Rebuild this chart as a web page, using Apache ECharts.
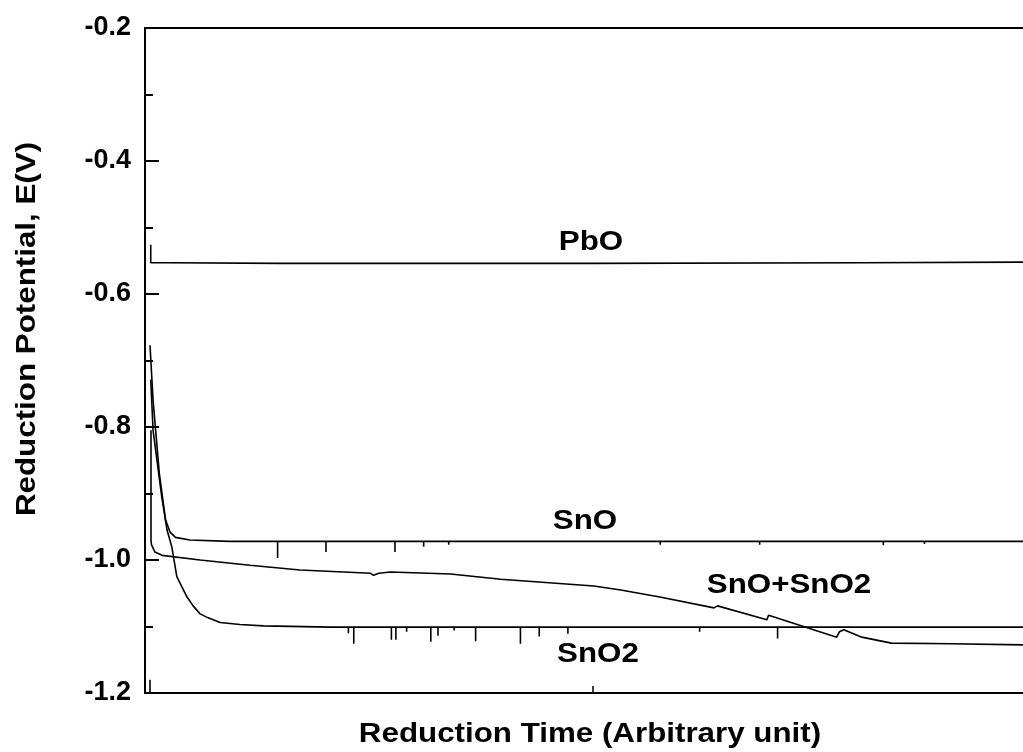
<!DOCTYPE html>
<html>
<head>
<meta charset="utf-8">
<script src="https://cdn.jsdelivr.net/npm/echarts@6/dist/echarts.min.js"></script>
<style>
  html, body { margin: 0; padding: 0; background: #fff; }
  #chart { width: 1023px; height: 752px; }
</style>
</head>
<body>
<div id="chart"></div>
<script>
// x in arbitrary time units (0..100), y in volts
const yTicks = [-1.2, -1.0, -0.8, -0.6, -0.4, -0.2];

const pbo = [
  [0.64, -0.526], [0.64, -0.553], [0.7, -0.550], [2.8, -0.553], [15, -0.554],
  [50, -0.554], [80, -0.553], [100, -0.552]
];

const sno = [
  [0.56, -0.677], [0.9, -0.76], [1.6, -0.87], [2.3, -0.94], [2.8, -0.958],
  [3.4, -0.966], [5.0, -0.970], [9.4, -0.972],
  [14.8, -0.972], [14.8, -0.997], [14.8, -0.972],
  [20.2, -0.972], [20.2, -0.988], [20.2, -0.972],
  [27.9, -0.972], [27.9, -0.988], [27.9, -0.972],
  [31.1, -0.972], [31.1, -0.980], [31.1, -0.972],
  [33.9, -0.972], [33.9, -0.977], [33.9, -0.972],
  [57.5, -0.972], [57.5, -0.977], [57.5, -0.972],
  [68.6, -0.972], [68.6, -0.977], [68.6, -0.972],
  [82.4, -0.972], [82.4, -0.978], [82.4, -0.972],
  [87.0, -0.972], [87.0, -0.976], [87.0, -0.972],
  [100, -0.972]
];

const sno2 = [
  [0.64, -0.729], [0.9, -0.805], [1.87, -0.905], [2.46, -0.955], [2.99, -0.980],
  [3.55, -1.025], [4.66, -1.055], [5.37, -1.069], [6.15, -1.081], [7.05, -1.087],
  [8.39, -1.094], [10.6, -1.097], [13.2, -1.099], [20.7, -1.101],
  [22.7, -1.101], [22.7, -1.110], [22.7, -1.101],
  [23.3, -1.101], [23.3, -1.126], [23.3, -1.101],
  [27.5, -1.101], [27.5, -1.120], [27.5, -1.101],
  [28.0, -1.101], [28.0, -1.120], [28.0, -1.101],
  [29.2, -1.101], [29.2, -1.108], [29.2, -1.101],
  [31.9, -1.101], [31.9, -1.123], [31.9, -1.101],
  [32.7, -1.101], [32.7, -1.114], [32.7, -1.101],
  [34.5, -1.101], [34.5, -1.106], [34.5, -1.101],
  [36.9, -1.101], [36.9, -1.122], [36.9, -1.101],
  [41.9, -1.101], [41.9, -1.126], [41.9, -1.101],
  [44.0, -1.101], [44.0, -1.115], [44.0, -1.101],
  [47.2, -1.101], [47.2, -1.111], [47.2, -1.101],
  [61.9, -1.101], [61.9, -1.108], [61.9, -1.101],
  [70.6, -1.101], [70.6, -1.118], [70.6, -1.101],
  [100, -1.101]
];

const snoMix = [
  [0.67, -0.805], [0.67, -0.970], [0.72, -0.977], [1.1, -0.988], [1.9, -0.993],
  [6.15, -1.000], [11.7, -1.008], [17.3, -1.015], [25.2, -1.020], [25.5, -1.023],
  [26.1, -1.020], [27.4, -1.018], [34.1, -1.021], [39.7, -1.029], [50.1, -1.039],
  [53.1, -1.045], [57.6, -1.056], [63.5, -1.072], [63.9, -1.069], [69.4, -1.090],
  [69.6, -1.083], [77.2, -1.116], [77.5, -1.108], [78.0, -1.105], [80.0, -1.116],
  [83.3, -1.125], [90, -1.126], [100, -1.128]
];

const startMark = [[0.56, -1.2], [0.56, -1.18]];

const labelFont = 'bold 27px "Liberation Sans", Arial, sans-serif';
const stretch = 1.16;

const chart = echarts.init(document.getElementById('chart'), null, { renderer: 'canvas' });

const lineSeries = (name, data) => ({
  name: name,
  type: 'line',
  data: data,
  showSymbol: false,
  symbol: 'none',
  smooth: false,
  lineStyle: { color: '#000', width: 1.6 },
  animation: false
});

const note = (text, x, y, rot) => ({
  type: 'text', x: x, y: y, rotation: rot || 0, scaleX: stretch,
  style: { text: text, font: labelFont, fill: '#000', align: 'center', verticalAlign: 'middle' }
});

chart.setOption({
  backgroundColor: '#fff',
  animation: false,
  grid: {
    left: 145, width: 896, top: 28, bottom: 59,
    outerBoundsMode: 'none', containLabel: false,
    show: true, borderColor: '#000', borderWidth: 2, backgroundColor: 'transparent'
  },
  xAxis: {
    type: 'value', min: 0, max: 100, interval: 50,
    axisLine: { show: true, lineStyle: { color: '#000', width: 2 } },
    axisTick: { show: true, inside: true, length: 7, lineStyle: { color: '#000', width: 1.5 } },
    axisLabel: { show: false },
    splitLine: { show: false }
  },
  yAxis: {
    type: 'value', min: -1.2, max: -0.2, interval: 0.2,
    axisLine: { show: true, lineStyle: { color: '#000', width: 2 } },
    axisTick: { show: true, inside: true, length: 14, lineStyle: { color: '#000', width: 2 } },
    minorTick: { show: true, splitNumber: 2, length: 8, lineStyle: { color: '#000', width: 2 } },
    axisLabel: {
      margin: 14, color: '#000', fontSize: 27, fontWeight: 'bold',
      fontFamily: '"Liberation Sans", Arial, sans-serif',
      formatter: v => v.toFixed(1)
    },
    splitLine: { show: false }
  },
  series: [
    lineSeries('PbO', pbo),
    lineSeries('SnO', sno),
    lineSeries('SnO2', sno2),
    lineSeries('SnO+SnO2', snoMix),
    lineSeries('start', startMark)
  ],
  graphic: [
    note('Reduction Potential, E(V)', 28, 329, Math.PI / 2),
    note('Reduction Time (Arbitrary unit)', 590, 735),
    note('PbO', 591, 243),
    note('SnO', 585, 522),
    note('SnO+SnO2', 789, 586),
    note('SnO2', 598, 655)
  ]
});
</script>
</body>
</html>
